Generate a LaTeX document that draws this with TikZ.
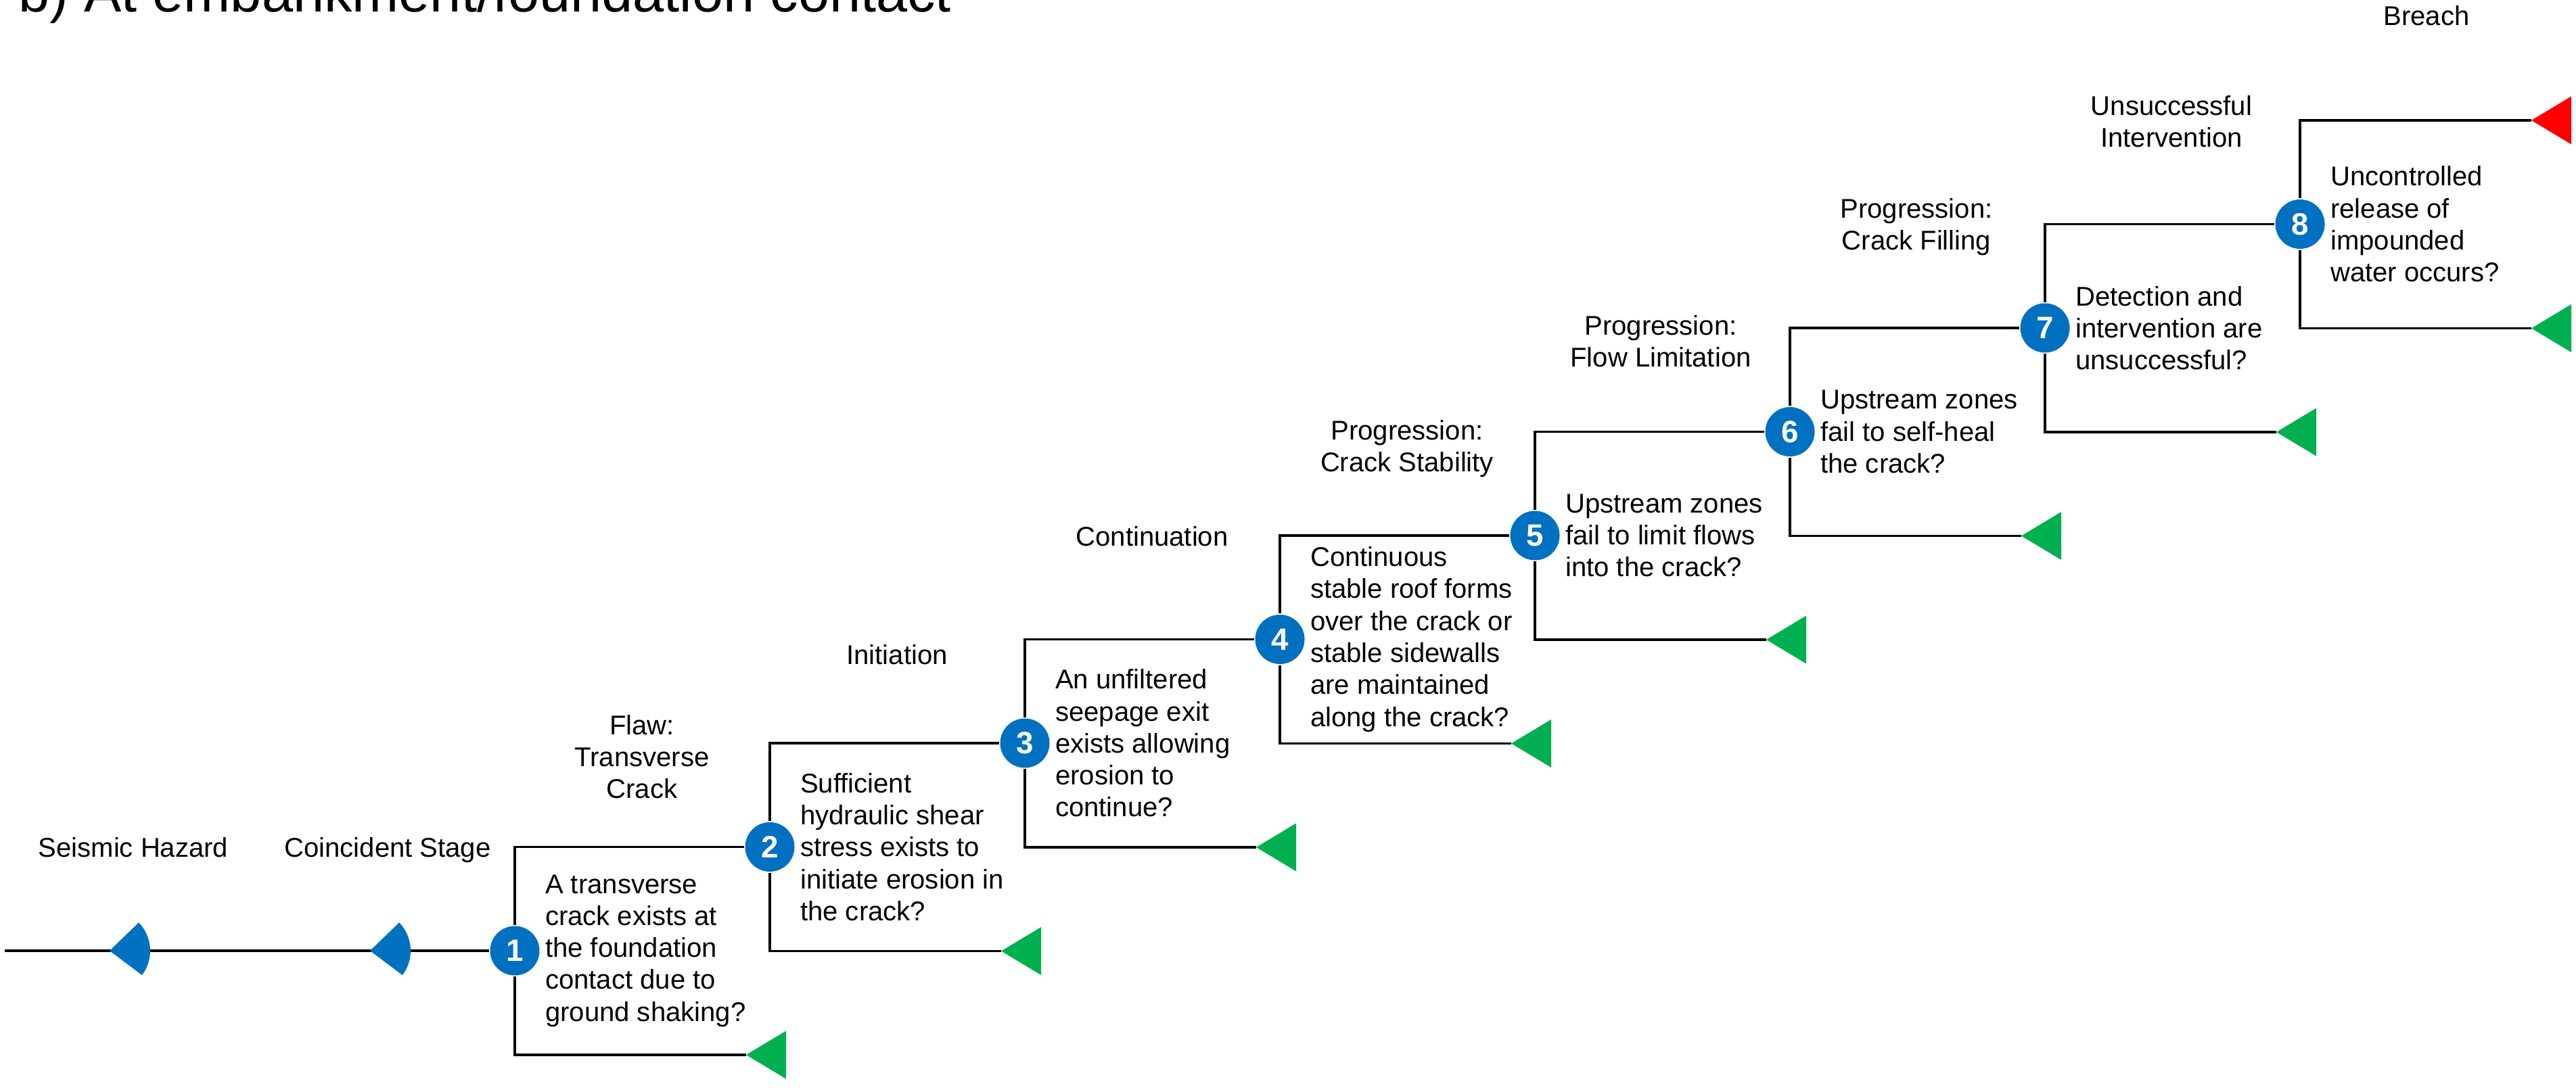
\documentclass[tikz,border=0pt]{standalone}
\usepackage{fontspec}
\setmainfont{Liberation Sans}
\usepackage{tikz}
\usetikzlibrary{positioning}
\definecolor{evblue}{HTML}{0070C0}
\definecolor{evgreen}{HTML}{00B050}
\definecolor{evred}{HTML}{FF0000}
\tikzset{
	num/.style={circle,fill=evblue,text=white,inner sep=0pt,minimum size=0.73cm,font=\fontsize{13}{15}\selectfont\bfseries},
	qtext/.style={align=left,inner sep=0pt,font=\fontsize{11.4}{13.45}\selectfont},
	stage/.style={align=center,inner sep=0pt,anchor=base,font=\fontsize{11.4}{13.45}\selectfont}
}
\begin{document}
\begin{tikzpicture}[line width=0.9pt]
			\useasboundingbox (0,0) rectangle (38.08,16.08);
			\node[anchor=base west,inner sep=0pt,font=\fontsize{23.6}{28}\selectfont] (title) at (0.26,15.90) {b) At embankment/foundation contact};
			% event nodes
			\node[num] (n1) at (7.61,2.02) {1};
			\node[num] (n2) at (11.38,3.555) {2};
			\node[num] (n3) at (15.15,5.09) {3};
			\node[num] (n4) at (18.92,6.625) {4};
			\node[num] (n5) at (22.69,8.16) {5};
			\node[num] (n6) at (26.46,9.695) {6};
			\node[num] (n7) at (30.23,11.23) {7};
			\node[num] (n8) at (34.00,12.765) {8};
			\node[qtext,right=0.055cm of n1] (q1) {A transverse\\crack exists at\\the foundation\\contact due to\\ground shaking?};
			\node[qtext,right=0.055cm of n2] (q2) {Sufficient\\hydraulic shear\\stress exists to\\initiate erosion in\\the crack?};
			\node[qtext,right=0.055cm of n3] (q3) {An unfiltered\\seepage exit\\exists allowing\\erosion to\\continue?};
			\node[qtext,right=0.055cm of n4] (q4) {Continuous\\stable roof forms\\over the crack or\\stable sidewalls\\are maintained\\along the crack?};
			\node[qtext,right=0.055cm of n5] (q5) {Upstream zones\\fail to limit flows\\into the crack?};
			\node[qtext,right=0.055cm of n6] (q6) {Upstream zones\\fail to self-heal\\the crack?};
			\node[qtext,right=0.055cm of n7] (q7) {Detection and\\intervention are\\unsuccessful?};
			\node[qtext,right=0.055cm of n8] (q8) {Uncontrolled\\release of\\impounded\\water occurs?};
			% stage labels
			\node[stage] (lhaz) at (1.97,3.40) {Seismic Hazard};
			\node[stage] (lcoin) at (5.73,3.40) {Coincident Stage};
			\node[stage] (lflaw) at (9.49,4.27) {Flaw:\\Transverse\\Crack};
			\node[stage] (linit) at (13.26,6.25) {Initiation};
			\node[stage] (lcont) at (17.03,8.00) {Continuation};
			\node[stage] (lstab) at (20.80,9.10) {Progression:\\Crack Stability};
			\node[stage] (llim) at (24.55,10.65) {Progression:\\Flow Limitation};
			\node[stage] (lfill) at (28.33,12.38) {Progression:\\Crack Filling};
			\node[stage] (lint) at (32.10,13.90) {Unsuccessful\\Intervention};
			\node[stage] (lbr) at (35.87,15.70) {Breach};
			% branch ends
			\coordinate (start) at (0.07,2.02);
			\coordinate (w1) at (1.62,2.02);
			\coordinate (w2) at (5.47,2.02);
			\coordinate (e1) at (11.03,0.48);
			\coordinate (e2) at (14.80,2.015);
			\coordinate (e3) at (18.57,3.55);
			\coordinate (e4) at (22.34,5.085);
			\coordinate (e5) at (26.11,6.62);
			\coordinate (e6) at (29.88,8.155);
			\coordinate (e7) at (33.65,9.69);
			\coordinate (e8) at (37.42,11.225);
			\coordinate (r8) at (37.42,14.30);
			\draw (start) -- (n1);
			\fill[evblue] (w1) -- ++(44:0.6) arc[start angle=44,end angle=-37,radius=0.6] -- cycle;
			\fill[evblue] (w2) -- ++(44:0.6) arc[start angle=44,end angle=-37,radius=0.6] -- cycle;
			\draw (n1) |- (n2);
			\draw (n2) |- (n3);
			\draw (n3) |- (n4);
			\draw (n4) |- (n5);
			\draw (n5) |- (n6);
			\draw (n6) |- (n7);
			\draw (n7) |- (n8);
			\draw (n8) |- (r8);
			\draw (n1) |- (e1);
			\draw (n2) |- (e2);
			\draw (n3) |- (e3);
			\draw (n4) |- (e4);
			\draw (n5) |- (e5);
			\draw (n6) |- (e6);
			\draw (n7) |- (e7);
			\draw (n8) |- (e8);
			\fill[evgreen] (e1) -- ++(0.59,0.355) -- ++(0,-0.71) -- cycle;
			\fill[evgreen] (e2) -- ++(0.59,0.355) -- ++(0,-0.71) -- cycle;
			\fill[evgreen] (e3) -- ++(0.59,0.355) -- ++(0,-0.71) -- cycle;
			\fill[evgreen] (e4) -- ++(0.59,0.355) -- ++(0,-0.71) -- cycle;
			\fill[evgreen] (e5) -- ++(0.59,0.355) -- ++(0,-0.71) -- cycle;
			\fill[evgreen] (e6) -- ++(0.59,0.355) -- ++(0,-0.71) -- cycle;
			\fill[evgreen] (e7) -- ++(0.59,0.355) -- ++(0,-0.71) -- cycle;
			\fill[evgreen] (e8) -- ++(0.59,0.355) -- ++(0,-0.71) -- cycle;
			\fill[evred] (r8) -- ++(0.59,0.355) -- ++(0,-0.71) -- cycle;
\end{tikzpicture}
\end{document}
